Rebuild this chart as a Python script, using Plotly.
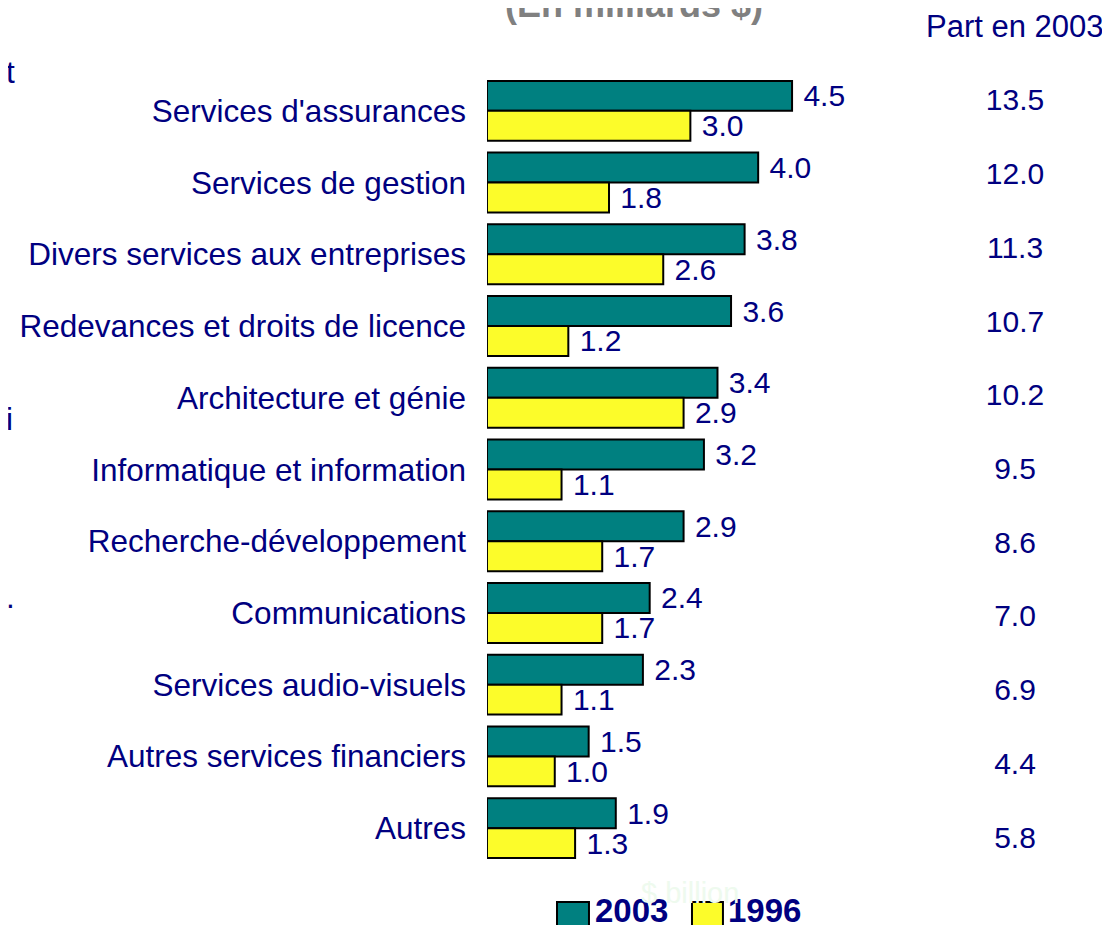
import plotly.graph_objects as go

categories = ["Services d'assurances", "Services de gestion", "Divers services aux entreprises",
              "Redevances et droits de licence", "Architecture et génie",
              "Informatique et information", "Recherche-développement", "Communications",
              "Services audio-visuels", "Autres services financiers", "Autres"]
v2003 = [4.5, 4.0, 3.8, 3.6, 3.4, 3.2, 2.9, 2.4, 2.3, 1.5, 1.9]
v1996 = [3.0, 1.8, 2.6, 1.2, 2.9, 1.1, 1.7, 1.7, 1.1, 1.0, 1.3]
part2003 = [13.5, 12.0, 11.3, 10.7, 10.2, 9.5, 8.6, 7.0, 6.9, 4.4, 5.8]

NAVY = "#000080"
TEAL = "#008080"
YELLOW = "#FCFC2A"
FONT = "Liberation Sans, Arial, sans-serif"

fig = go.Figure()
fig.add_trace(go.Bar(y=categories, x=v2003, orientation="h", name="2003",
                     marker=dict(color=TEAL, line=dict(color="black", width=2)),
                     texttemplate=" %{x:.1f}", textposition="outside", cliponaxis=False,
                     constraintext="none", textfont=dict(color=NAVY, size=30, family=FONT)))
fig.add_trace(go.Bar(y=categories, x=v1996, orientation="h", name="1996",
                     marker=dict(color=YELLOW, line=dict(color="black", width=2)),
                     texttemplate=" %{x:.1f}", textposition="outside", cliponaxis=False,
                     constraintext="none", textfont=dict(color=NAVY, size=30, family=FONT)))

# share column
fig.add_trace(go.Scatter(x=[0] * len(categories), y=categories, mode="text",
                         text=[f"{p:.1f}" for p in part2003], xaxis="x2", yaxis="y2",
                         textfont=dict(color=NAVY, size=30, family=FONT),
                         showlegend=False, hoverinfo="skip"))

fig.update_layout(
    width=1110, height=925,
    margin=dict(l=0, r=0, t=0, b=0),
    plot_bgcolor="white", paper_bgcolor="white",
    barmode="group", bargap=0.165, bargroupgap=0,
    font=dict(family=FONT, color=NAVY, size=30),
    xaxis=dict(domain=[0.4315, 0.7369], range=[0, 5], visible=False),
    yaxis=dict(domain=[0.0746, 0.9276], autorange="reversed", showgrid=False,
               showline=False, ticks="", ticklabelstandoff=20,
               tickfont=dict(size=31.5, color=NAVY, family=FONT)),
    xaxis2=dict(domain=[0.84, 0.9745], range=[-1, 1], visible=False, anchor="y2"),
    yaxis2=dict(domain=[0.0605, 0.9373], range=[10.5, -0.5], visible=False,
                anchor="x2", type="category", categoryorder="array",
                categoryarray=categories),
    showlegend=False,
)

# legend drawn by hand (big swatches, bold labels)
for x0, x1, col, lab, tx in [(0.4946, 0.5234, TEAL, "2003", 0.5270),
                             (0.6162, 0.6441, YELLOW, "1996", 0.6470)]:
    fig.add_shape(type="rect", xref="paper", yref="paper", x0=x0, x1=x1,
                  y0=-0.012, y1=0.0335, fillcolor=col, line=dict(color="black", width=2))
    fig.add_annotation(text=f"<b>{lab}</b>", xref="paper", yref="paper", x=tx, y=0,
                       xanchor="left", yanchor="bottom", yshift=2, showarrow=False,
                       font=dict(size=33, color=NAVY, family=FONT))

fig.add_annotation(text="<b>(En milliards $)</b>", xref="paper", yref="paper",
                   x=0.5644, y=1, xanchor="center", yanchor="bottom", yshift=-19,
                   showarrow=False, font=dict(size=36, color="#808080", family=FONT))
fig.add_annotation(text="Part en 2003", xref="paper", yref="paper",
                   x=0.9068, y=0.9795, xanchor="center", yanchor="middle",
                   showarrow=False, font=dict(size=31, color=NAVY, family=FONT))
fig.add_annotation(text="$ billion", xref="paper", yref="paper",
                   x=0.6144, y=0.0432, xanchor="center", yanchor="middle",
                   showarrow=False, font=dict(size=29, color="#EEFAEE", family=FONT))
for ch, yy in [("t", 0.9308), ("i", 0.5557), (".", 0.3632)]:
    fig.add_annotation(text=ch, xref="paper", yref="paper", x=0, y=yy,
                       xanchor="left", yanchor="middle", xshift=-4,
                       showarrow=False, font=dict(size=31.5, color=NAVY, family=FONT))

fig.write_html("out.html")
